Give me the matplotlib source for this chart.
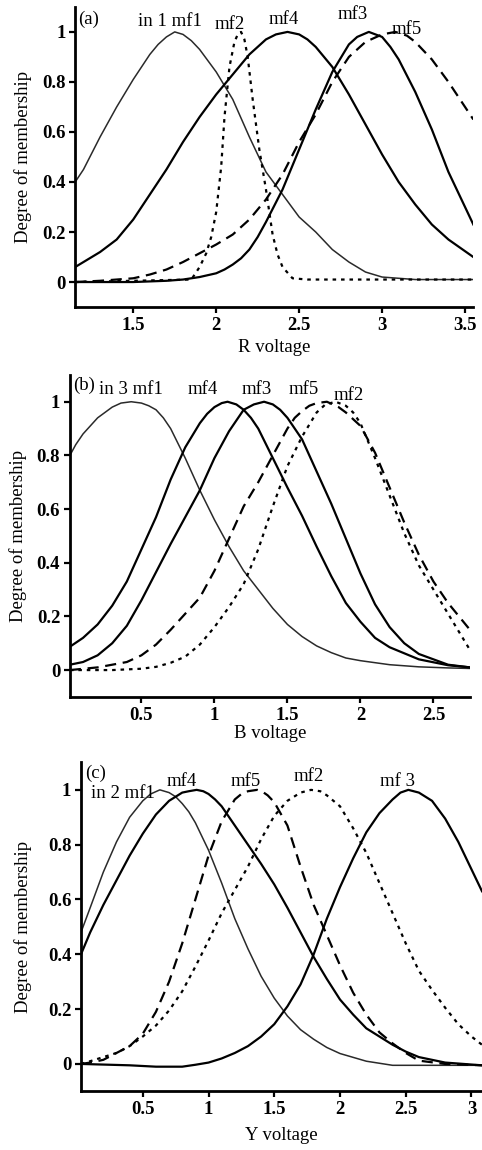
import numpy as np
import matplotlib
matplotlib.use("Agg")
import matplotlib.pyplot as plt
from matplotlib import rc
from matplotlib.ticker import FuncFormatter

rc("font", family="serif")
rc("font", serif=["Liberation Serif", "DejaVu Serif"])
rc("xtick", direction="out")
rc("ytick", direction="out")

# ---- panel (a): R voltage ----
a_mf1_x = [1.15, 1.2, 1.3, 1.4, 1.5, 1.6, 1.65, 1.7, 1.75, 1.8, 1.85, 1.9, 2.0, 2.1, 2.2, 2.3, 2.4, 2.5, 2.6, 2.7, 2.8, 2.9, 3.0, 3.2, 3.4, 3.55]
a_mf1_y = [0.40, 0.45, 0.58, 0.70, 0.81, 0.91, 0.95, 0.98, 1.00, 0.99, 0.965, 0.93, 0.84, 0.73, 0.58, 0.44, 0.35, 0.26, 0.20, 0.13, 0.08, 0.04, 0.02, 0.01, 0.01, 0.01]
a_mf2_x = [1.15, 1.85, 1.9, 1.94, 1.97, 2.0, 2.03, 2.05, 2.08, 2.11, 2.13, 2.15, 2.17, 2.19, 2.22, 2.26, 2.3, 2.34, 2.37, 2.4, 2.46, 2.55, 3.55]
a_mf2_y = [0.0, 0.01, 0.06, 0.115, 0.18, 0.28, 0.46, 0.66, 0.86, 0.96, 0.99, 1.0, 0.97, 0.9, 0.73, 0.53, 0.37, 0.19, 0.11, 0.06, 0.015, 0.01, 0.01]
a_mf3_x = [1.15, 1.5, 1.7, 1.8, 1.9, 2.0, 2.05, 2.1, 2.15, 2.2, 2.25, 2.3, 2.4, 2.5, 2.6, 2.7, 2.8, 2.85, 2.92, 3.0, 3.05, 3.1, 3.2, 3.3, 3.4, 3.5, 3.55]
a_mf3_y = [0.0, 0.0, 0.005, 0.01, 0.02, 0.035, 0.05, 0.07, 0.095, 0.13, 0.18, 0.24, 0.37, 0.53, 0.69, 0.84, 0.95, 0.98, 1.0, 0.98, 0.94, 0.89, 0.76, 0.61, 0.44, 0.30, 0.23]
a_mf4_x = [1.15, 1.2, 1.3, 1.4, 1.5, 1.6, 1.7, 1.8, 1.9, 2.0, 2.1, 2.2, 2.3, 2.36, 2.43, 2.5, 2.55, 2.6, 2.7, 2.8, 2.9, 3.0, 3.1, 3.2, 3.3, 3.4, 3.55]
a_mf4_y = [0.06, 0.08, 0.12, 0.17, 0.25, 0.35, 0.45, 0.56, 0.66, 0.75, 0.83, 0.91, 0.97, 0.99, 1.0, 0.99, 0.97, 0.94, 0.86, 0.75, 0.63, 0.51, 0.40, 0.31, 0.23, 0.17, 0.10]
a_mf5_x = [1.15, 1.3, 1.4, 1.5, 1.6, 1.7, 1.8, 1.9, 2.0, 2.1, 2.2, 2.3, 2.4, 2.5, 2.6, 2.7, 2.8, 2.9, 3.0, 3.08, 3.15, 3.2, 3.3, 3.4, 3.5, 3.55]
a_mf5_y = [0.0, 0.005, 0.01, 0.015, 0.03, 0.05, 0.08, 0.115, 0.15, 0.19, 0.25, 0.33, 0.43, 0.56, 0.67, 0.80, 0.90, 0.96, 0.99, 1.0, 0.985, 0.96, 0.89, 0.80, 0.70, 0.65]

# ---- panel (b): B voltage ----
b_mf1_x = [0.01, 0.05, 0.1, 0.15, 0.2, 0.25, 0.3, 0.36, 0.43, 0.5, 0.55, 0.6, 0.65, 0.7, 0.8, 0.9, 1.0, 1.1, 1.2, 1.3, 1.4, 1.5, 1.6, 1.7, 1.8, 1.9, 2.0, 2.2, 2.4, 2.6, 2.75]
b_mf1_y = [0.80, 0.84, 0.88, 0.91, 0.94, 0.96, 0.98, 0.995, 1.0, 0.995, 0.985, 0.97, 0.94, 0.90, 0.79, 0.67, 0.56, 0.46, 0.37, 0.30, 0.23, 0.17, 0.125, 0.09, 0.065, 0.045, 0.035, 0.02, 0.012, 0.008, 0.006]
b_mf2_x = [0.01, 0.3, 0.5, 0.6, 0.7, 0.8, 0.9, 1.0, 1.1, 1.2, 1.3, 1.4, 1.5, 1.6, 1.7, 1.76, 1.83, 1.9, 1.95, 2.0, 2.1, 2.2, 2.3, 2.4, 2.5, 2.6, 2.75]
b_mf2_y = [0.0, 0.0, 0.005, 0.012, 0.027, 0.05, 0.095, 0.16, 0.235, 0.32, 0.45, 0.61, 0.76, 0.87, 0.96, 0.99, 1.0, 0.985, 0.96, 0.92, 0.79, 0.65, 0.51, 0.39, 0.30, 0.21, 0.075]
b_mf3_x = [0.01, 0.1, 0.2, 0.3, 0.4, 0.5, 0.6, 0.7, 0.8, 0.9, 1.0, 1.1, 1.2, 1.27, 1.34, 1.4, 1.45, 1.5, 1.6, 1.7, 1.8, 1.9, 2.0, 2.1, 2.2, 2.3, 2.4, 2.6, 2.75]
b_mf3_y = [0.02, 0.03, 0.055, 0.10, 0.165, 0.26, 0.365, 0.47, 0.57, 0.67, 0.79, 0.89, 0.97, 0.99, 1.0, 0.99, 0.97, 0.94, 0.86, 0.74, 0.62, 0.49, 0.36, 0.245, 0.16, 0.10, 0.06, 0.02, 0.01]
b_mf4_x = [0.01, 0.1, 0.2, 0.3, 0.4, 0.5, 0.6, 0.7, 0.8, 0.9, 0.95, 1.0, 1.05, 1.09, 1.15, 1.2, 1.25, 1.3, 1.4, 1.5, 1.6, 1.7, 1.8, 1.9, 2.0, 2.1, 2.2, 2.4, 2.6, 2.75]
b_mf4_y = [0.087, 0.12, 0.17, 0.24, 0.33, 0.45, 0.57, 0.71, 0.83, 0.92, 0.955, 0.98, 0.995, 1.0, 0.99, 0.97, 0.94, 0.90, 0.79, 0.68, 0.575, 0.46, 0.35, 0.25, 0.18, 0.12, 0.085, 0.04, 0.018, 0.01]
b_mf5_x = [0.01, 0.2, 0.3, 0.4, 0.5, 0.6, 0.7, 0.8, 0.9, 1.0, 1.1, 1.2, 1.3, 1.4, 1.5, 1.55, 1.6, 1.65, 1.7, 1.77, 1.85, 1.9, 2.0, 2.1, 2.2, 2.3, 2.4, 2.5, 2.6, 2.75]
b_mf5_y = [0.0, 0.01, 0.02, 0.03, 0.055, 0.095, 0.15, 0.21, 0.27, 0.37, 0.49, 0.61, 0.70, 0.80, 0.90, 0.94, 0.965, 0.985, 0.995, 1.0, 0.98, 0.96, 0.91, 0.81, 0.68, 0.55, 0.43, 0.33, 0.25, 0.15]

# ---- panel (c): Y voltage ----
c_mf1_x = [0.03, 0.1, 0.2, 0.3, 0.4, 0.5, 0.56, 0.63, 0.7, 0.75, 0.8, 0.85, 0.9, 1.0, 1.1, 1.2, 1.3, 1.4, 1.5, 1.6, 1.7, 1.8, 1.9, 2.0, 2.2, 2.4, 2.6, 2.8, 3.08]
c_mf1_y = [0.48, 0.57, 0.70, 0.81, 0.90, 0.96, 0.985, 1.0, 0.99, 0.975, 0.95, 0.92, 0.88, 0.78, 0.66, 0.53, 0.42, 0.32, 0.24, 0.175, 0.125, 0.09, 0.06, 0.038, 0.01, -0.005, -0.005, -0.005, -0.005]
c_mf2_x = [0.03, 0.1, 0.2, 0.3, 0.4, 0.5, 0.6, 0.7, 0.8, 0.9, 1.0, 1.1, 1.2, 1.3, 1.4, 1.5, 1.6, 1.7, 1.78, 1.85, 1.9, 2.0, 2.1, 2.2, 2.3, 2.4, 2.5, 2.6, 2.7, 2.8, 2.9, 3.0, 3.08]
c_mf2_y = [0.0, 0.01, 0.025, 0.04, 0.065, 0.10, 0.14, 0.195, 0.265, 0.355, 0.45, 0.55, 0.635, 0.72, 0.82, 0.905, 0.96, 0.99, 1.0, 0.995, 0.98, 0.94, 0.86, 0.77, 0.66, 0.55, 0.44, 0.34, 0.27, 0.205, 0.145, 0.10, 0.07]
c_mf3_x = [0.03, 0.4, 0.6, 0.8, 0.9, 1.0, 1.1, 1.2, 1.3, 1.4, 1.5, 1.6, 1.7, 1.8, 1.9, 2.0, 2.1, 2.2, 2.3, 2.4, 2.46, 2.52, 2.6, 2.7, 2.8, 2.9, 3.0, 3.08]
c_mf3_y = [0.0, -0.005, -0.01, -0.01, -0.003, 0.005, 0.02, 0.04, 0.065, 0.10, 0.145, 0.21, 0.29, 0.40, 0.53, 0.645, 0.75, 0.845, 0.915, 0.965, 0.99, 1.0, 0.99, 0.96, 0.895, 0.81, 0.71, 0.63]
c_mf4_x = [0.03, 0.1, 0.2, 0.3, 0.4, 0.5, 0.6, 0.7, 0.8, 0.85, 0.91, 0.96, 1.0, 1.05, 1.1, 1.2, 1.3, 1.4, 1.5, 1.6, 1.7, 1.8, 1.9, 2.0, 2.1, 2.2, 2.3, 2.4, 2.5, 2.6, 2.8, 3.08]
c_mf4_y = [0.40, 0.48, 0.58, 0.67, 0.76, 0.84, 0.91, 0.96, 0.99, 0.995, 1.0, 0.995, 0.985, 0.965, 0.94, 0.87, 0.80, 0.73, 0.655, 0.57, 0.48, 0.39, 0.31, 0.235, 0.18, 0.13, 0.10, 0.07, 0.045, 0.025, 0.005, -0.005]
c_mf5_x = [0.03, 0.1, 0.2, 0.3, 0.4, 0.5, 0.6, 0.7, 0.8, 0.9, 1.0, 1.1, 1.2, 1.25, 1.3, 1.37, 1.42, 1.45, 1.5, 1.6, 1.7, 1.8, 1.9, 2.0, 2.1, 2.2, 2.3, 2.4, 2.5, 2.6, 2.8, 3.08]
c_mf5_y = [0.0, 0.005, 0.015, 0.04, 0.065, 0.11, 0.19, 0.30, 0.44, 0.60, 0.76, 0.885, 0.965, 0.985, 0.995, 1.0, 0.99, 0.98, 0.955, 0.87, 0.72, 0.58, 0.47, 0.36, 0.26, 0.18, 0.115, 0.075, 0.04, 0.012, 0.0, -0.005]

a_xticks = [1.5, 2, 2.5, 3, 3.5]
b_xticks = [0.5, 1, 1.5, 2, 2.5]
c_xticks = [0.5, 1, 1.5, 2, 2.5, 3]
yticks = [0, 0.2, 0.4, 0.6, 0.8, 1]

thin = dict(color="#2a2a2a", lw=1.1, ls="-")
solid = dict(color="k", lw=1.6, ls="-")
dashed = dict(color="k", lw=1.6, ls=(0, (5, 3)))
dotted = dict(color="k", lw=1.6, ls=(0, (1.6, 2.2)))

FS = 13.5


def style_axis(ax, xlim, xticks, xlabel, ylab_x, xlab_y):
    ax.set_xlim(*xlim)
    ax.set_ylim(-0.1, 1.1)
    ax.set_xticks(xticks)
    ax.set_yticks(yticks)
    fmt = FuncFormatter(lambda v, p: "%g" % v)
    ax.xaxis.set_major_formatter(fmt)
    ax.yaxis.set_major_formatter(fmt)
    for s in ["top", "right"]:
        ax.spines[s].set_visible(False)
    for s in ["left", "bottom"]:
        ax.spines[s].set_linewidth(2.0)
    ax.tick_params(length=4, width=1.6, labelsize=FS, pad=3)
    for lab in ax.get_xticklabels() + ax.get_yticklabels():
        lab.set_fontweight("bold")
    ax.set_xlabel(xlabel, fontsize=FS)
    ax.set_ylabel("Degree of membership", fontsize=FS)
    ax.yaxis.set_label_coords(ylab_x, 0.5)
    ax.xaxis.set_label_coords(0.5, xlab_y)


fig = plt.figure(figsize=(4.82, 11.5), dpi=100)

# (a)
ax = fig.add_axes([0.156, 0.733, 0.826, 0.261])
ax.plot(a_mf1_x, a_mf1_y, **thin)
ax.plot(a_mf4_x, a_mf4_y, **solid)
ax.plot(a_mf3_x, a_mf3_y, **solid)
ax.plot(a_mf5_x, a_mf5_y, **dashed)
ax.plot(a_mf2_x, a_mf2_y, **dotted)
style_axis(ax, (1.15, 3.55), a_xticks, "R voltage", -0.108, -0.107)
ax.text(1.17, 1.05, "(a)", fontsize=FS, va="center")
ax.text(1.72, 1.04, "in 1 mf1", fontsize=FS, ha="center", va="center")
ax.text(2.08, 1.03, "mf2", fontsize=FS, ha="center", va="center")
ax.text(2.41, 1.05, "mf4", fontsize=FS, ha="center", va="center")
ax.text(2.82, 1.07, "mf3", fontsize=FS, ha="center", va="center")
ax.text(3.15, 1.01, "mf5", fontsize=FS, ha="center", va="center")

# (b)
ax = fig.add_axes([0.145, 0.394, 0.830, 0.280])
ax.plot(b_mf1_x, b_mf1_y, **thin)
ax.plot(b_mf4_x, b_mf4_y, **solid)
ax.plot(b_mf3_x, b_mf3_y, **solid)
ax.plot(b_mf5_x, b_mf5_y, **dashed)
ax.plot(b_mf2_x, b_mf2_y, **dotted)
style_axis(ax, (0.01, 2.75), b_xticks, "B voltage", -0.108, -0.087)
ax.text(0.03, 1.06, "(b)", fontsize=FS, va="center")
ax.text(0.43, 1.045, "in 3 mf1", fontsize=FS, ha="center", va="center")
ax.text(0.92, 1.045, "mf4", fontsize=FS, ha="center", va="center")
ax.text(1.29, 1.045, "mf3", fontsize=FS, ha="center", va="center")
ax.text(1.61, 1.045, "mf5", fontsize=FS, ha="center", va="center")
ax.text(1.92, 1.025, "mf2", fontsize=FS, ha="center", va="center")

# (c)
ax = fig.add_axes([0.168, 0.051, 0.832, 0.286])
ax.plot(c_mf1_x, c_mf1_y, **thin)
ax.plot(c_mf4_x, c_mf4_y, **solid)
ax.plot(c_mf3_x, c_mf3_y, **solid)
ax.plot(c_mf5_x, c_mf5_y, **dashed)
ax.plot(c_mf2_x, c_mf2_y, **dotted)
style_axis(ax, (0.03, 3.08), c_xticks, "Y voltage", -0.122, -0.109)
ax.text(0.06, 1.06, "(c)", fontsize=FS, va="center")
ax.text(0.11, 0.985, "in 2 mf1", fontsize=FS, ha="left", va="center")
ax.text(0.80, 1.03, "mf4", fontsize=FS, ha="center", va="center")
ax.text(1.28, 1.03, "mf5", fontsize=FS, ha="center", va="center")
ax.text(1.76, 1.05, "mf2", fontsize=FS, ha="center", va="center")
ax.text(2.44, 1.03, "mf 3", fontsize=FS, ha="center", va="center")

fig.savefig("out.png", dpi=100)
